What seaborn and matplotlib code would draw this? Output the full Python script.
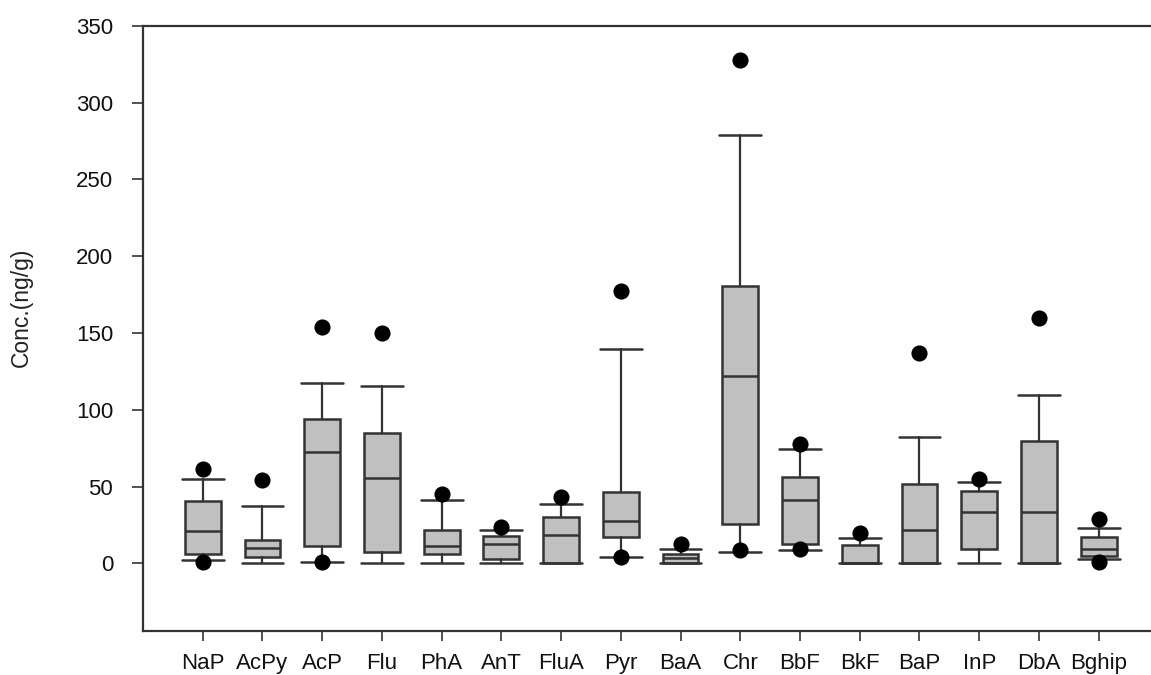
import numpy as np
import pandas as pd
import matplotlib
matplotlib.use("Agg")
import matplotlib.pyplot as plt
import seaborn as sns

# ---- data ----
categories = ["NaP", "AcPy", "AcP", "Flu", "PhA", "AnT", "FluA", "Pyr",
              "BaA", "Chr", "BbF", "BkF", "BaP", "InP", "DbA", "Bghip"]
whisker_low = [2.0, 0.0, 1.0, 0.0, 0.0, 0.0, 0.0, 4.1, 0.0, 7.6, 8.7, 0.0, 0.0, 0.0, 0.0, 3.0]
q1 = [6.3, 4.1, 11.1, 7.4, 6.3, 3.0, 0.3, 17.0, 0.0, 25.5, 12.8, 0.0, 0.0, 9.5, 0.0, 5.0]
median = [20.8, 9.8, 72.2, 55.3, 11.1, 12.8, 18.7, 27.3, 3.5, 122.3, 41.0, 0.3, 21.9, 33.2, 33.2, 9.5]
q3 = [40.8, 15.2, 94.1, 85.2, 21.9, 17.6, 29.9, 46.2, 6.3, 180.8, 56.3, 11.9, 52.0, 47.3, 79.6, 17.3]
whisker_high = [55.0, 37.3, 117.5, 115.2, 41.0, 21.9, 38.6, 139.6, 9.5, 278.7, 74.2, 16.3, 82.0, 52.9, 109.5, 23.0]
outlier_high = [61.6, 54.6, 153.7, 150.0, 45.3, 23.6, 43.1, 177.6, 12.8, 327.5, 77.9, 20.0, 137.0, 55.1, 159.8, 28.8]
outlier_low = [1.0, np.nan, 1.0, np.nan, np.nan, np.nan, np.nan, 4.1, np.nan, 8.5, 9.5, np.nan, np.nan, np.nan, np.nan, 0.8]
y_ticks = [0, 50, 100, 150, 200, 250, 300, 350]
y_label = "Conc.(ng/g)"

# ---- style ----
sns.set_theme(style="ticks")
plt.rcParams["font.family"] = ["Liberation Sans", "DejaVu Sans"]

line_c = "#333333"
box_c = "#c0c0c0"

fig = plt.figure(figsize=(11.51, 6.75), dpi=100)
ax = fig.add_axes([143 / 1151, 1 - 631 / 675, 1015.4 / 1151, (631 - 25.7) / 675])

stats = []
for i, name in enumerate(categories):
    stats.append(dict(label=name, whislo=whisker_low[i], q1=q1[i], med=median[i],
                      q3=q3[i], whishi=whisker_high[i], fliers=[]))

positions = np.arange(len(categories))
ax.bxp(stats, positions=positions, widths=0.6, capwidths=0.7, patch_artist=True,
       showfliers=False,
       boxprops=dict(facecolor=box_c, edgecolor=line_c, linewidth=1.8),
       medianprops=dict(color=line_c, linewidth=1.8),
       whiskerprops=dict(color=line_c, linewidth=1.6),
       capprops=dict(color=line_c, linewidth=1.8))

out_df = pd.DataFrame({
    "pos": np.concatenate([positions, positions]),
    "value": np.concatenate([outlier_high, outlier_low]),
}).dropna()
sns.scatterplot(data=out_df, x="pos", y="value", ax=ax, color="black",
                marker="o", s=135, linewidth=0, zorder=5, legend=False)

ax.set_xlim(-1, 16)
ax.set_ylim(-44, 350)
ax.set_xticks(positions)
ax.set_xticklabels(categories, fontsize=16, color="#111111")
ax.set_yticks(y_ticks)
ax.set_yticklabels([str(v) for v in y_ticks], fontsize=16, color="#111111")
ax.set_xlabel("")
ax.set_ylabel(y_label, fontsize=16.5, color="#222222")
ax.yaxis.set_label_coords(-0.108, 0.535)

ax.tick_params(axis="y", length=8, width=1.2, color=line_c, pad=13.5)
ax.tick_params(axis="x", length=7.5, width=1.2, color=line_c, pad=8.5)
for side in ["left", "bottom", "top"]:
    ax.spines[side].set_visible(True)
    ax.spines[side].set_color(line_c)
    ax.spines[side].set_linewidth(1.6)
ax.spines["right"].set_visible(False)
ax.grid(False)

fig.savefig("out.png", dpi=100)
